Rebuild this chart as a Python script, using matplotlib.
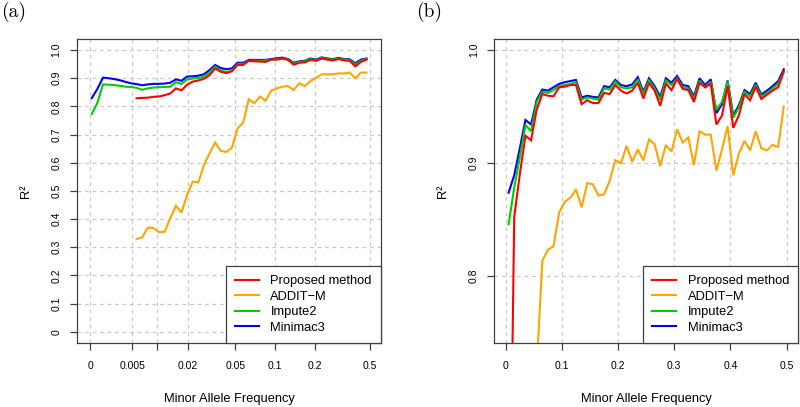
import numpy as np
import matplotlib
matplotlib.use('Agg')
import matplotlib.pyplot as plt

matplotlib.rcParams['font.family'] = 'Liberation Sans'

nan = np.nan

# ---------------- panel (a) : MAF bins on a log(MAF + 0.005) axis ----------------
mafA = [0.00014, 0.00064, 0.00119, 0.00179, 0.00244, 0.00317, 0.00396, 0.00483, 0.00578, 0.00682,
        0.00797, 0.00923, 0.01061, 0.01212, 0.01378, 0.01560, 0.01760, 0.01979, 0.02219, 0.02483,
        0.02772, 0.03090, 0.03437, 0.03819, 0.04238, 0.04693, 0.05198, 0.05750, 0.06356, 0.07020,
        0.07749, 0.08549, 0.09427, 0.10389, 0.11442, 0.12600, 0.13869, 0.15261, 0.16789, 0.18464,
        0.20302, 0.22317, 0.24527, 0.26952, 0.29613, 0.32530, 0.35731, 0.39241, 0.43092, 0.47315]

minimacA = [0.829, 0.862, 0.902, 0.900, 0.897, 0.893, 0.887, 0.882, 0.879, 0.875,
            0.878, 0.880, 0.880, 0.881, 0.884, 0.896, 0.891, 0.906, 0.907, 0.909,
            0.914, 0.929, 0.947, 0.936, 0.932, 0.935, 0.955, 0.955, 0.965, 0.965,
            0.965, 0.965, 0.968, 0.971, 0.973, 0.968, 0.955, 0.960, 0.962, 0.970,
            0.966, 0.974, 0.970, 0.968, 0.972, 0.968, 0.967, 0.953, 0.966, 0.970]

impute2A = [0.773, 0.812, 0.878, 0.877, 0.876, 0.873, 0.870, 0.869, 0.866, 0.859,
            0.864, 0.867, 0.868, 0.869, 0.870, 0.886, 0.880, 0.896, 0.899, 0.901,
            0.906, 0.920, 0.941, 0.928, 0.922, 0.926, 0.950, 0.951, 0.962, 0.962,
            0.962, 0.963, 0.965, 0.968, 0.970, 0.966, 0.952, 0.958, 0.960, 0.968,
            0.964, 0.972, 0.968, 0.966, 0.970, 0.966, 0.965, 0.948, 0.962, 0.968]

proposedA = [nan, nan, nan, nan, nan, nan, nan, nan, 0.829, 0.830,
             0.831, 0.834, 0.835, 0.840, 0.846, 0.864, 0.857, 0.877, 0.888, 0.892,
             0.898, 0.911, 0.935, 0.923, 0.918, 0.925, 0.947, 0.947, 0.962, 0.960,
             0.959, 0.958, 0.967, 0.966, 0.970, 0.965, 0.948, 0.955, 0.956, 0.965,
             0.962, 0.970, 0.966, 0.963, 0.968, 0.963, 0.962, 0.942, 0.958, 0.966]

additA = [nan, nan, nan, nan, nan, nan, nan, nan, 0.329, 0.335,
          0.370, 0.368, 0.353, 0.355, 0.403, 0.447, 0.423, 0.486, 0.533, 0.530,
          0.592, 0.633, 0.672, 0.642, 0.638, 0.654, 0.722, 0.742, 0.826, 0.811,
          0.835, 0.820, 0.856, 0.864, 0.870, 0.872, 0.858, 0.882, 0.872, 0.890,
          0.902, 0.914, 0.914, 0.914, 0.917, 0.917, 0.920, 0.900, 0.920, 0.920]

xticksA = [0, 0.005, 0.01, 0.02, 0.05, 0.1, 0.2, 0.5]
xlabelsA = ['0', '0.005', '', '0.02', '0.05', '0.1', '0.2', '0.5']
yticksA = [0, 0.1, 0.2, 0.3, 0.4, 0.5, 0.6, 0.7, 0.8, 0.9, 1.0]
ylabelsA = ['0', '0.1', '0.2', '0.3', '0.4', '0.5', '0.6', '0.7', '0.8', '0.9', '1.0']

# ---------------- panel (b) : MAF bins of width 0.01 ----------------
mafB = [0.005, 0.015, 0.025, 0.035, 0.045, 0.055, 0.065, 0.075, 0.085, 0.095,
        0.105, 0.115, 0.125, 0.135, 0.145, 0.155, 0.165, 0.175, 0.185, 0.195,
        0.205, 0.215, 0.225, 0.235, 0.245, 0.255, 0.265, 0.275, 0.285, 0.295,
        0.305, 0.315, 0.325, 0.335, 0.345, 0.355, 0.365, 0.375, 0.385, 0.395,
        0.405, 0.415, 0.425, 0.435, 0.445, 0.455, 0.465, 0.475, 0.485, 0.495]

minimacB = [0.8735, 0.889, 0.913, 0.938, 0.934, 0.956, 0.965, 0.964, 0.967, 0.970,
            0.9715, 0.9725, 0.9735, 0.958, 0.9595, 0.9585, 0.958, 0.968, 0.967, 0.9735,
            0.969, 0.968, 0.9695, 0.976, 0.963, 0.975, 0.968, 0.9585, 0.975, 0.971,
            0.977, 0.969, 0.968, 0.959, 0.975, 0.969, 0.974, 0.944, 0.952, 0.973,
            0.942, 0.951, 0.9645, 0.961, 0.971, 0.9605, 0.964, 0.968, 0.9725, 0.983]

impute2B = [0.8455, 0.878, 0.905, 0.9335, 0.928, 0.954, 0.963, 0.962, 0.9645, 0.968,
            0.969, 0.970, 0.9715, 0.956, 0.958, 0.957, 0.956, 0.966, 0.965, 0.972,
            0.967, 0.966, 0.967, 0.974, 0.961, 0.973, 0.966, 0.956, 0.973, 0.969,
            0.975, 0.967, 0.966, 0.957, 0.973, 0.967, 0.972, 0.947, 0.954, 0.972,
            0.940, 0.949, 0.963, 0.959, 0.969, 0.959, 0.962, 0.966, 0.970, 0.981]

proposedB = [0.48, 0.852, 0.890, 0.924, 0.920, 0.947, 0.961, 0.9595, 0.959, 0.967,
             0.9675, 0.969, 0.969, 0.952, 0.9555, 0.953, 0.953, 0.962, 0.961, 0.969,
             0.964, 0.9615, 0.964, 0.971, 0.957, 0.971, 0.964, 0.9506, 0.9705, 0.9645,
             0.9745, 0.9655, 0.9645, 0.954, 0.971, 0.967, 0.970, 0.934, 0.942, 0.968,
             0.931, 0.942, 0.961, 0.9555, 0.9675, 0.9566, 0.9605, 0.964, 0.967, 0.981]

additB = [nan, nan, nan, nan, nan, 0.718, 0.813, 0.823, 0.826, 0.856,
          0.8655, 0.869, 0.8765, 0.8605, 0.882, 0.881, 0.871, 0.872, 0.884, 0.9025,
          0.8995, 0.915, 0.901, 0.912, 0.902, 0.9208, 0.9164, 0.8972, 0.9158, 0.910,
          0.9297, 0.918, 0.9226, 0.898, 0.928, 0.925, 0.925, 0.893, 0.912, 0.9326,
          0.889, 0.908, 0.9196, 0.911, 0.928, 0.913, 0.911, 0.916, 0.914, 0.950]

xticksB = [0, 0.1, 0.2, 0.3, 0.4, 0.5]
xlabelsB = ['0', '0.1', '0.2', '0.3', '0.4', '0.5']
yticksB = [0.8, 0.9, 1.0]
ylabelsB = ['0.8', '0.9', '1.0']

methods = ['Proposed method', 'ADDIT\u2212M', 'Impute2', 'Minimac3']
colors = ['#ff0000', '#ffa500', '#00cd00', '#0000ff']

# ----------------------------------------------------------------------------------------------------------------------

AxesLabel, TickLabel, LegendSize = [9.3, 7.5, 9.3]
lw = 1.5
edge = '#404040'

fig = plt.figure(figsize=(8.0, 4.07), dpi=100)
axA = fig.add_axes([0.0966, 0.158, 0.3794, 0.746])
axB = fig.add_axes([0.618, 0.158, 0.3795, 0.746])

fwd = lambda x: np.log10(np.asarray(x) + 0.005)
inv = lambda t: 10**np.asarray(t) - 0.005
axA.set_xscale('function', functions=(fwd, inv))

panels = [(axA, mafA, [proposedA, additA, impute2A, minimacA]),
          (axB, mafB, [proposedB, additB, impute2B, minimacB])]

for ax, maf, series in panels:
    lines = [None]*4
    # draw blue, green, orange, red so that red ends on top
    for k in [3, 2, 1, 0]:
        lines[k], = ax.plot(maf, series[k], '-', color=colors[k], linewidth=lw,
                            solid_joinstyle='miter', zorder=3)
    ax.grid(True, color='#c8c8c8', linestyle=(0, (3, 3)), linewidth=0.9)
    ax.set_axisbelow(True)
    for s in ax.spines.values():
        s.set_color(edge)
        s.set_linewidth(0.9)
    ax.tick_params(direction='out', length=5, width=0.9, color=edge, labelsize=TickLabel)
    ax.tick_params(axis='x', pad=8.3)
    ax.tick_params(axis='y', pad=6.3, labelrotation=90)
    ax.set_xlabel('Minor Allele Frequency', fontsize=AxesLabel, labelpad=16)
    ax.set_ylabel('R\u00b2', fontsize=AxesLabel, labelpad=14)
    leg = ax.legend(lines, methods, loc='lower right', borderaxespad=0, fontsize=LegendSize,
                    fancybox=False, framealpha=1, edgecolor=edge, borderpad=0.7,
                    handlelength=1.87, handletextpad=0.9, labelspacing=0.27)
    leg.get_frame().set_linewidth(0.9)
    for l in leg.get_lines():
        l.set_linewidth(lw)

axA.set_xticks(xticksA)
axA.set_xticklabels(xlabelsA)
axA.set_yticks(yticksA)
axA.set_yticklabels(ylabelsA, va='center')
axA.set_xlim(-0.00095, 0.600)
axA.set_ylim(-0.039, 1.039)

axB.set_xticks(xticksB)
axB.set_xticklabels(xlabelsB)
axB.set_yticks(yticksB)
axB.set_yticklabels(ylabelsB, va='center')
axB.set_xlim(-0.0203, 0.5203)
axB.set_ylim(0.7405, 1.00975)

fig.text(0.002, 1 - 2.0/407, '(a)', ha='left', va='top', fontfamily='cmr10', fontsize=14)
fig.text(0.520, 1 - 2.0/407, '(b)', ha='left', va='top', fontfamily='cmr10', fontsize=14)

plt.savefig('out.png', dpi=100)
plt.close()
